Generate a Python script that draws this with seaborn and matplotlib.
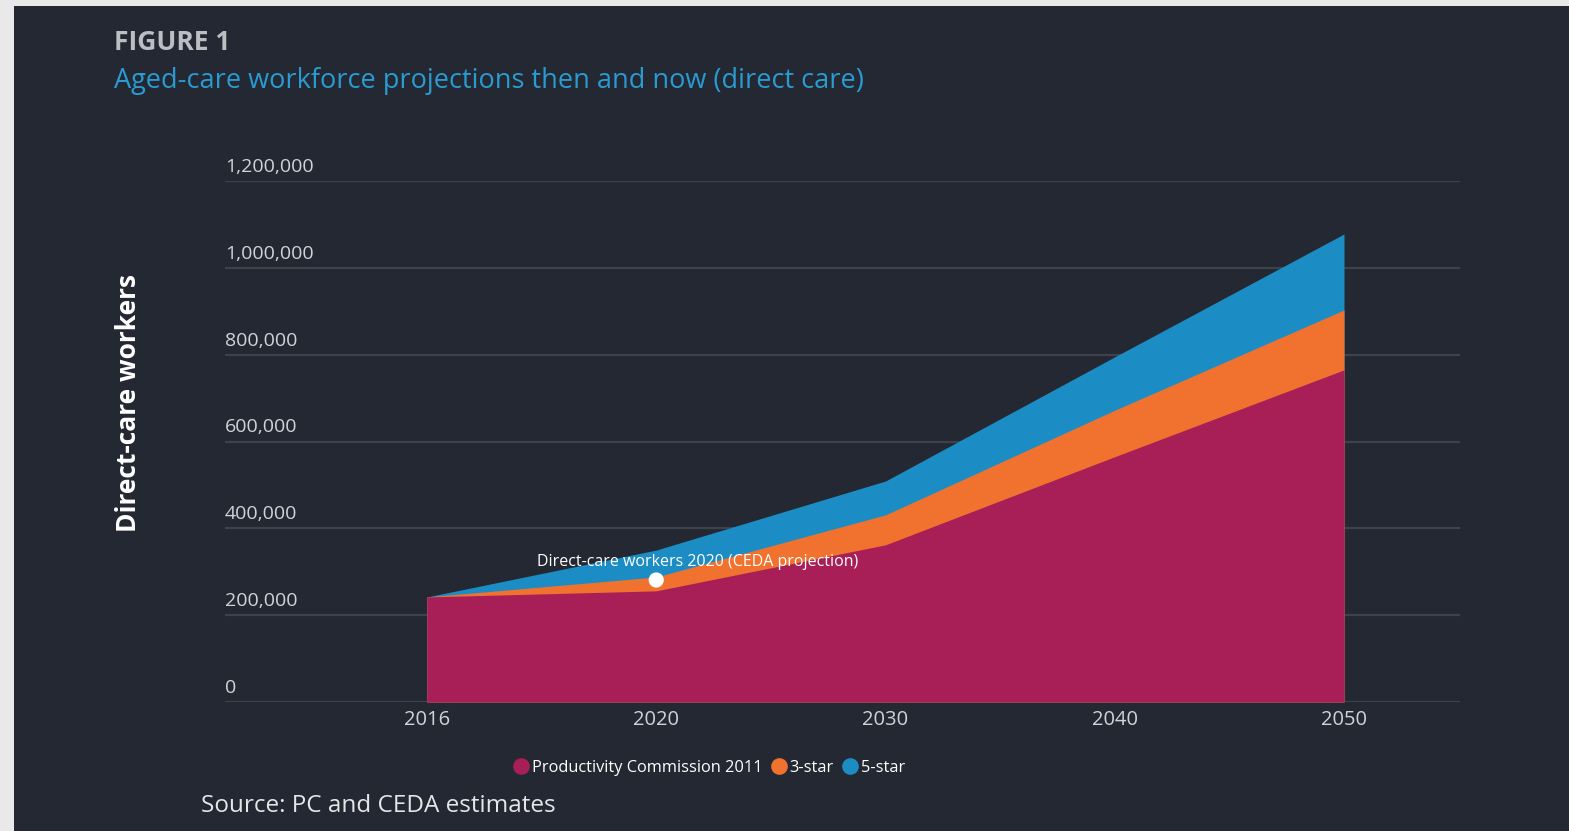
import matplotlib
matplotlib.use("Agg")
import matplotlib.pyplot as plt
from matplotlib.patches import Rectangle
from matplotlib.lines import Line2D
import matplotlib.transforms as mtransforms
import seaborn as sns
import numpy as np

# ---- data ----
years = ["2016", "2020", "2030", "2040", "2050"]
pc2011 = [242000, 256000, 362000, 565000, 765000]
three_star = [242000, 288000, 431000, 672000, 903000]
five_star = [242000, 350000, 509000, 795000, 1078000]
ceda_2020 = 281000
y_ticks = [0, 200000, 400000, 600000, 800000, 1000000, 1200000]

series_names = ["Productivity Commission 2011", "3-star", "5-star"]
colors = {"Productivity Commission 2011": "#A81E57", "3-star": "#F0722E", "5-star": "#1B8DC4"}

BG = "#232833"
sns.set_theme(style="white")
FONT = ["Open Sans", "DejaVu Sans"]
plt.rcParams["font.family"] = FONT

W, H = 1569, 831
fig = plt.figure(figsize=(W / 100, H / 100), dpi=100)
fig.patch.set_facecolor("#E9E9EA")
fig.patches.append(Rectangle((14 / W, 0), 1 - 14 / W, (H - 6) / H,
                             transform=fig.transFigure, facecolor=BG,
                             edgecolor="none", zorder=-10))

ax_l, ax_r = 225 / W, 1460 / W
ax_b, ax_t = (H - 702) / H, (H - 181) / H
ax = fig.add_axes([ax_l, ax_b, ax_r - ax_l, ax_t - ax_b])
ax.set_facecolor("none")
ax.set_zorder(1)

x = np.arange(len(years))
for name, vals in [("5-star", five_star), ("3-star", three_star),
                   ("Productivity Commission 2011", pc2011)]:
    ax.fill_between(x, 0, vals, color=colors[name], linewidth=0, zorder=2)

sns.scatterplot(x=[years.index("2020")], y=[ceda_2020], ax=ax, color="white",
                s=120, edgecolor="none", zorder=5, legend=False)
ax.annotate("Direct-care workers 2020 (CEDA projection)",
            xy=(years.index("2020"), ceda_2020), xytext=(30, 7),
            textcoords="offset points", ha="center", va="bottom",
            color="white", fontsize=11.5, zorder=6)

ax.set_xlim(-0.881, 4.506)
ax.set_ylim(0, 1200000)
ax.set_yticks(y_ticks)
ax.set_yticklabels([])
ax.tick_params(axis="y", length=0)
ax.grid(axis="y", color="#3E424B", linewidth=1.6, zorder=1)
ax.grid(axis="x", visible=False)
ax.set_axisbelow(True)
for s in ax.spines.values():
    s.set_visible(False)

trans = mtransforms.blended_transform_factory(ax.transAxes, ax.transData)
trans = trans + mtransforms.ScaledTranslation(0, 5 / 100, fig.dpi_scale_trans)
for t in y_ticks:
    ax.text(0, t, f"{t:,}", transform=trans, ha="left", va="bottom",
            color="#D2D3D6", fontsize=14, zorder=3)

ax.set_xticks(x)
ax.set_xticklabels(years, color="#D2D3D6", fontsize=14.5)
ax.tick_params(axis="x", length=0, pad=6)

fig.text(128 / W, 1 - 403 / H, "Direct-care workers", rotation=90,
         ha="center", va="center", color="white", fontsize=19, fontweight="bold")

fig.text(114 / W, 1 - 42 / H, "FIGURE 1", ha="left", va="center",
         color="#BDBEC2", fontsize=19, fontweight="bold")
fig.text(114 / W, 1 - 81 / H, "Aged-care workforce projections then and now (direct care)",
         ha="left", va="center", color="#2A9BD0", fontsize=19.5)
fig.text(201 / W, 1 - 806 / H, "Source: PC and CEDA estimates", ha="left",
         va="center", color="#E6E6E6", fontsize=17.5)

handles = [Line2D([0], [0], marker="o", linestyle="none", markersize=12,
                  markerfacecolor=colors[n], markeredgecolor="none") for n in series_names]
fig.legend(handles, series_names, loc="center", bbox_to_anchor=(709 / W, 1 - 768 / H),
           ncol=3, frameon=False, fontsize=11.8, labelcolor="white",
           handletextpad=0.15, columnspacing=0.5, handlelength=1.0)

fig.savefig("out.png", dpi=100, facecolor=fig.get_facecolor())
